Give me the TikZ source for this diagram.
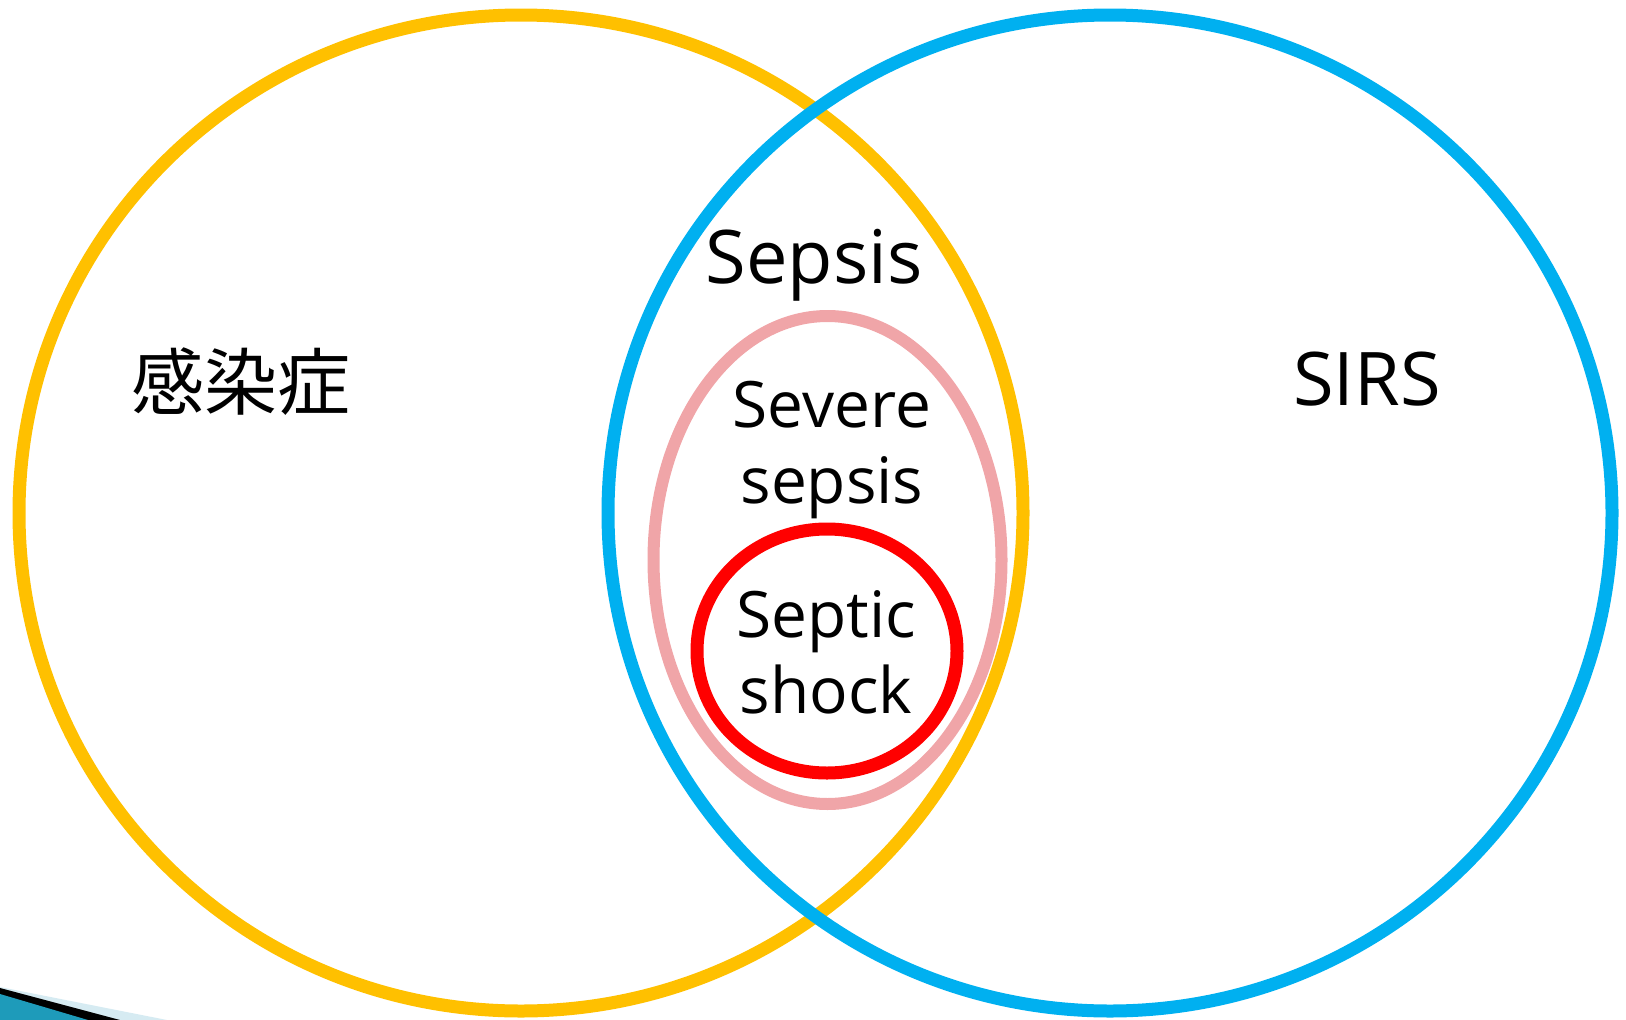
\documentclass[tikz,border=0pt]{standalone}
\usepackage{fontspec}
\setmainfont{Open Sans}
\newfontfamily\jpfont{Noto Sans CJK JP}
\definecolor{infyellow}{HTML}{FFC000}
\definecolor{sirsblue}{HTML}{00B0F0}
\definecolor{severepink}{HTML}{F0A5A8}
\definecolor{shockred}{HTML}{FF0000}
\definecolor{cornerteal}{HTML}{1E9BBA}
\definecolor{cornerlight}{HTML}{D6EBF2}

\begin{document}
\begin{tikzpicture}[x=1pt, y=-1pt,
  ring/.style={line width=13pt},
  bigtxt/.style={anchor=base, font=\fontsize{74}{76}\selectfont},
  midtxt/.style={anchor=base, align=center, font=\fontsize{64}{76}\selectfont}]
\useasboundingbox (0,0) rectangle (1626,1020);
% corner decoration
\fill[cornerlight] (0,987) -- (167,1020) -- (0,1020) -- cycle;
\fill[black] (0,988) -- (120,1020) -- (0,1020) -- cycle;
\fill[cornerteal] (0,994) -- (88,1020) -- (0,1020) -- cycle;
% sets
\draw[ring, infyellow] (521,513) ellipse [x radius=502pt, y radius=498pt];
\draw[ring, sirsblue] (1110,513) ellipse [x radius=502pt, y radius=498pt];
\draw[line width=12pt, severepink] (827.5,560) ellipse [x radius=174pt, y radius=244pt];
\draw[ring, shockred] (827,651) ellipse [x radius=130pt, y radius=122pt];
% labels (base = last line)
\node[anchor=center, font=\jpfont\fontsize{73}{76}\selectfont] (infection) at (241,382) {感染症};
\node[bigtxt] (sepsis) at (814,283) {Sepsis};
\node[bigtxt] (sirs) at (1367,405) {SIRS};
\node[midtxt] (severe) at (832,503) {Severe\\sepsis};
\node[midtxt] (shock) at (826,713) {Septic\\shock};
\end{tikzpicture}
\end{document}
